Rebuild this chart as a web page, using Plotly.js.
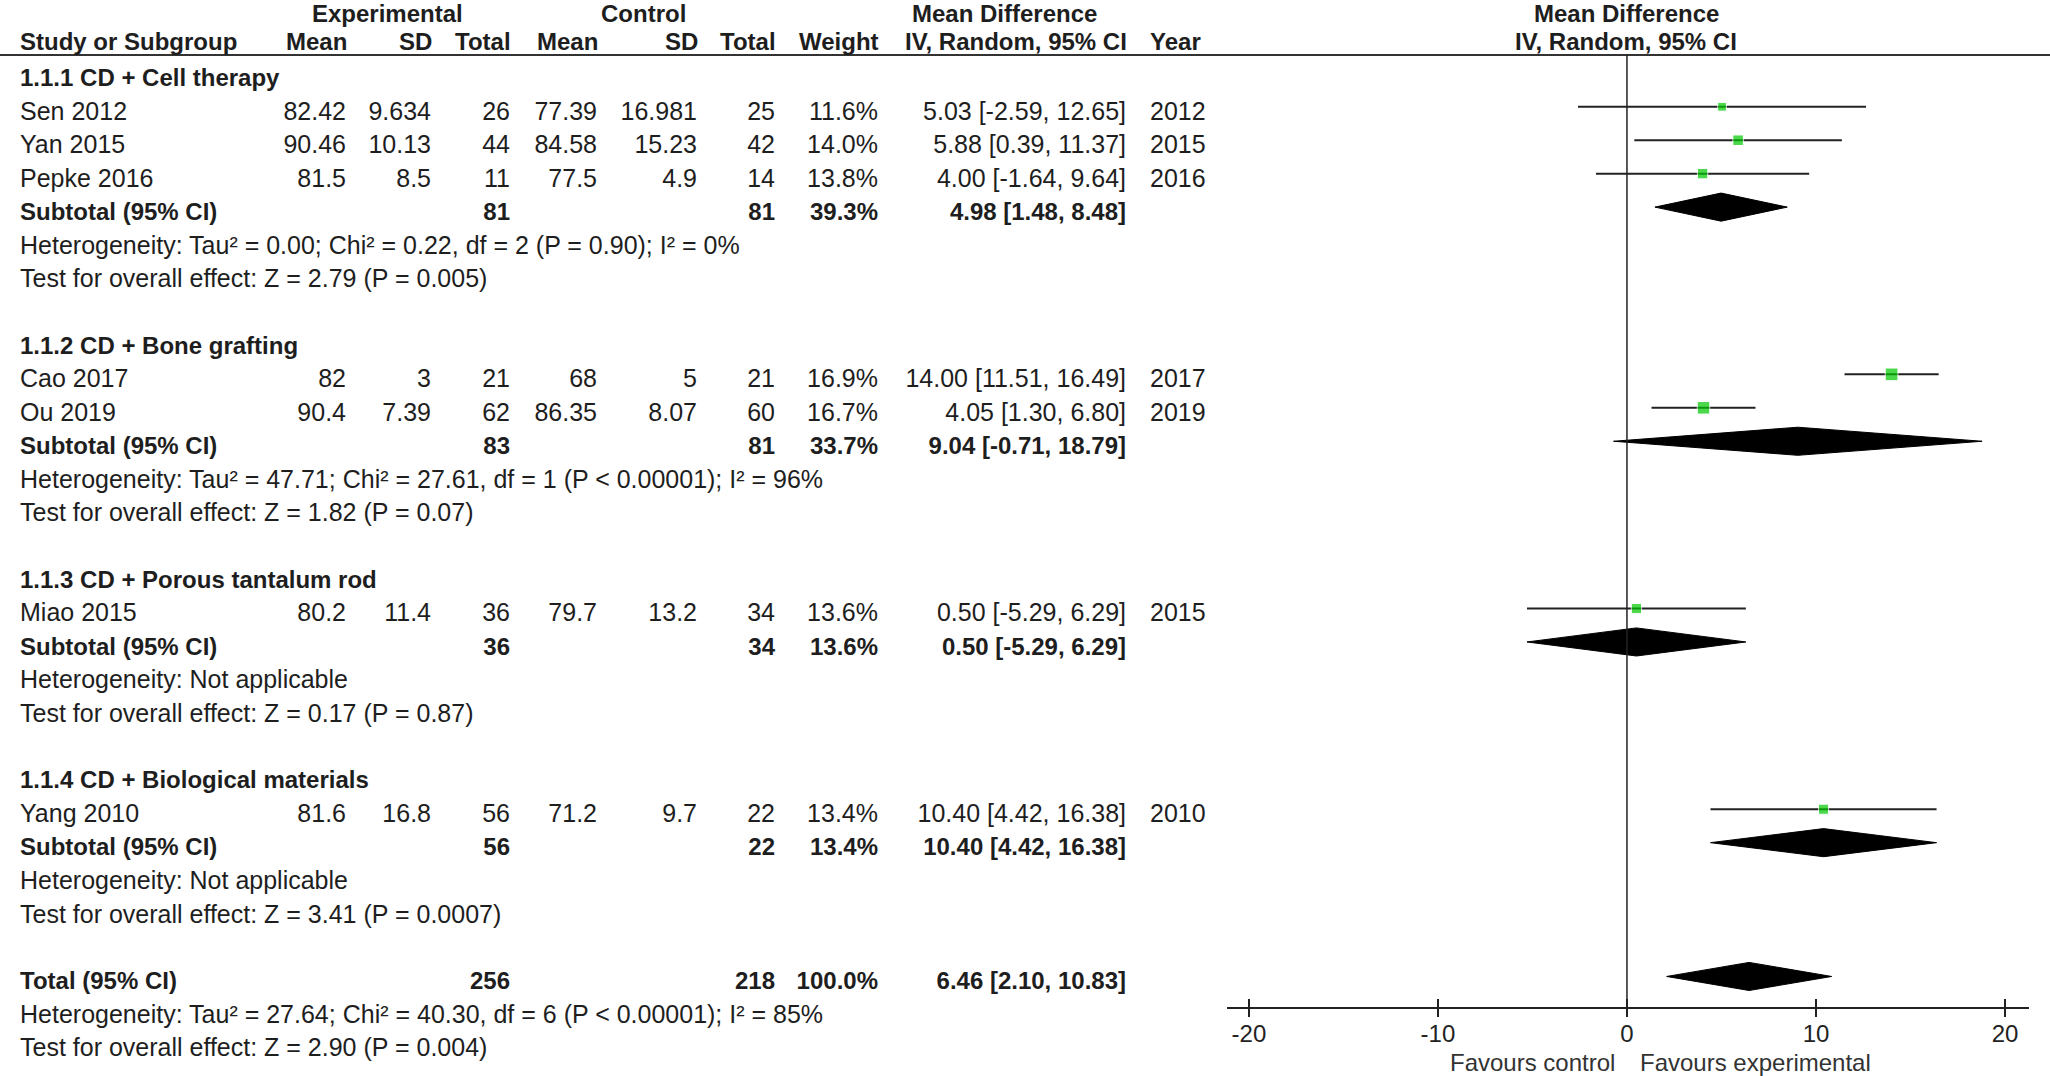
<!DOCTYPE html>
<html>
<head>
<meta charset="utf-8">
<script src="https://cdn.plot.ly/plotly-3.0.1.min.js"></script>
<style>
  html, body { margin: 0; padding: 0; background: #fff; }
  #chart { width: 2050px; height: 1076px; }
</style>
</head>
<body>
<div id="chart"></div>
<script>
// Forest plot - CD combined treatments vs control (Mean Difference, IV, Random)

// ---- data ----
const groupNames = [
    '1.1.1 CD + Cell therapy',
    '1.1.2 CD + Bone grafting',
    '1.1.3 CD + Porous tantalum rod',
    '1.1.4 CD + Biological materials'
];

const studyNames = ['Sen 2012', 'Yan 2015', 'Pepke 2016', 'Cao 2017', 'Ou 2019', 'Miao 2015', 'Yang 2010'];
const studyGroup = [0, 0, 0, 1, 1, 2, 3];
const expMean = [82.42, 90.46, 81.5, 82, 90.4, 80.2, 81.6];
const expSD = [9.634, 10.13, 8.5, 3, 7.39, 11.4, 16.8];
const expTotal = [26, 44, 11, 21, 62, 36, 56];
const ctrlMean = [77.39, 84.58, 77.5, 68, 86.35, 79.7, 71.2];
const ctrlSD = [16.981, 15.23, 4.9, 5, 8.07, 13.2, 9.7];
const ctrlTotal = [25, 42, 14, 21, 60, 34, 22];
const weight = [11.6, 14.0, 13.8, 16.9, 16.7, 13.6, 13.4];
const md = [5.03, 5.88, 4.00, 14.00, 4.05, 0.50, 10.40];
const ciLow = [-2.59, 0.39, -1.64, 11.51, 1.30, -5.29, 4.42];
const ciHigh = [12.65, 11.37, 9.64, 16.49, 6.80, 6.29, 16.38];
const year = [2012, 2015, 2016, 2017, 2019, 2015, 2010];

const subExpTotal = [81, 83, 36, 56];
const subCtrlTotal = [81, 81, 34, 22];
const subWeight = [39.3, 33.7, 13.6, 13.4];
const subMd = [4.98, 9.04, 0.50, 10.40];
const subLow = [1.48, -0.71, -5.29, 4.42];
const subHigh = [8.48, 18.79, 6.29, 16.38];
const subHet = [
    'Heterogeneity: Tau² = 0.00; Chi² = 0.22, df = 2 (P = 0.90); I² = 0%',
    'Heterogeneity: Tau² = 47.71; Chi² = 27.61, df = 1 (P &lt; 0.00001); I² = 96%',
    'Heterogeneity: Not applicable',
    'Heterogeneity: Not applicable'
];
const subTest = [
    'Test for overall effect: Z = 2.79 (P = 0.005)',
    'Test for overall effect: Z = 1.82 (P = 0.07)',
    'Test for overall effect: Z = 0.17 (P = 0.87)',
    'Test for overall effect: Z = 3.41 (P = 0.0007)'
];

const totalExp = 256;
const totalCtrl = 218;
const totalWeight = 100.0;
const totalMd = 6.46;
const totalLow = 2.10;
const totalHigh = 10.83;
const totalHet = 'Heterogeneity: Tau² = 27.64; Chi² = 40.30, df = 6 (P &lt; 0.00001); I² = 85%';
const totalTest = 'Test for overall effect: Z = 2.90 (P = 0.004)';

const xTicks = [-20, -10, 0, 10, 20];

// ---- page geometry (pixels) ----
const W = 2050, H = 1076;
const ROW_PX = 33.45;      // distance between text rows
const ROW0_PX = 80;        // centre of first row
const MARK_SHIFT = 0.2;    // marks sit slightly above the text
const DIAMOND_H = 0.42;    // diamond half height in rows
const AXIS_PX = 1008;
const FONT = 'Liberation Sans, Arial, sans-serif';
const TXT = '#1e1e1e';

const pxToRow = px => (px - ROW0_PX) / ROW_PX;

// ---- build rows ----
const cols = { label: [], eMean: [], eSD: [], eTot: [], cMean: [], cSD: [], cTot: [], wt: [], ci: [], yr: [] };
function put(col, row, text, bold) { cols[col].push({ row, text, bold: !!bold }); }

const studyRow = [];
const subRow = [];
let r = 0;
groupNames.forEach((g, gi) => {
    put('label', r, g, true);
    r++;
    studyNames.forEach((s, i) => {
        if (studyGroup[i] !== gi) return;
        studyRow[i] = r;
        put('label', r, s);
        put('eMean', r, String(expMean[i]));
        put('eSD', r, String(expSD[i]));
        put('eTot', r, String(expTotal[i]));
        put('cMean', r, String(ctrlMean[i]));
        put('cSD', r, String(ctrlSD[i]));
        put('cTot', r, String(ctrlTotal[i]));
        put('wt', r, weight[i].toFixed(1) + '%');
        put('ci', r, `${md[i].toFixed(2)} [${ciLow[i].toFixed(2)}, ${ciHigh[i].toFixed(2)}]`);
        put('yr', r, String(year[i]));
        r++;
    });
    subRow[gi] = r;
    put('label', r, 'Subtotal (95% CI)', true);
    put('eTot', r, String(subExpTotal[gi]), true);
    put('cTot', r, String(subCtrlTotal[gi]), true);
    put('wt', r, subWeight[gi].toFixed(1) + '%', true);
    put('ci', r, `${subMd[gi].toFixed(2)} [${subLow[gi].toFixed(2)}, ${subHigh[gi].toFixed(2)}]`, true);
    r++;
    put('label', r, subHet[gi]); r++;
    put('label', r, subTest[gi]); r++;
    r++; // blank line
});
const totalRow = r;
put('label', r, 'Total (95% CI)', true);
put('eTot', r, String(totalExp), true);
put('cTot', r, String(totalCtrl), true);
put('wt', r, totalWeight.toFixed(1) + '%', true);
put('ci', r, `${totalMd.toFixed(2)} [${totalLow.toFixed(2)}, ${totalHigh.toFixed(2)}]`, true);
r++;
put('label', r, totalHet); r++;
put('label', r, totalTest); r++;

// column anchors in page pixels
const colX = {
    label: [20, 'middle right'],
    eMean: [346, 'middle left'],
    eSD: [431, 'middle left'],
    eTot: [510, 'middle left'],
    cMean: [597, 'middle left'],
    cSD: [697, 'middle left'],
    cTot: [775, 'middle left'],
    wt: [878, 'middle left'],
    ci: [1126, 'middle left'],
    yr: [1150, 'middle right']
};

const traces = [];
Object.keys(cols).forEach(k => {
    const [x, pos] = colX[k];
    [false, true].forEach(bold => {
        const items = cols[k].filter(d => d.bold === bold);
        if (!items.length) return;
        traces.push({
            type: 'scatter',
            mode: 'text',
            x: items.map(() => x),
            y: items.map(d => d.row),
            text: items.map(d => bold ? '<b>' + d.text + '</b>' : d.text),
            textposition: pos,
            textfont: { family: FONT, size: bold ? 24 : 25, color: TXT },
            cliponaxis: false,
            hoverinfo: 'skip',
            showlegend: false,
            xaxis: 'x',
            yaxis: 'y'
        });
    });
});

// study estimates with CI lines
traces.push({
    type: 'scatter',
    mode: 'markers',
    x: md,
    y: studyRow.map(v => v - MARK_SHIFT),
    marker: { symbol: 'square', size: weight.map(w => w * 0.75), color: '#00c800' },
    error_x: {
        type: 'data',
        symmetric: false,
        array: ciHigh.map((h, i) => h - md[i]),
        arrayminus: ciLow.map((l, i) => md[i] - l),
        width: 0,
        thickness: 2,
        color: '#222'
    },
    cliponaxis: false,
    hoverinfo: 'skip',
    showlegend: false,
    xaxis: 'x2',
    yaxis: 'y'
});

// pooled diamonds (subgroups + total)
const dMd = subMd.concat([totalMd]);
const dLow = subLow.concat([totalLow]);
const dHigh = subHigh.concat([totalHigh]);
const dRow = subRow.concat([totalRow]);
const dx = [], dy = [];
dMd.forEach((m, i) => {
    const c = dRow[i] - MARK_SHIFT;
    dx.push(dLow[i], m, dHigh[i], m, dLow[i], null);
    dy.push(c, c - DIAMOND_H, c, c + DIAMOND_H, c, null);
});
traces.push({
    type: 'scatter',
    mode: 'lines',
    x: dx,
    y: dy,
    fill: 'toself',
    fillcolor: '#000',
    line: { color: '#000', width: 1 },
    hoverinfo: 'skip',
    showlegend: false,
    xaxis: 'x2',
    yaxis: 'y'
});

// empty trace so the upward tick axis exists
traces.push({ type: 'scatter', x: [], y: [], xaxis: 'x3', yaxis: 'y', showlegend: false, hoverinfo: 'skip' });

const forestDomain = [1227 / W, 2029 / W];
const forestRange = [-21.16, 21.27];
const axisPos = (H - AXIS_PX) / H;
const headerLineRow = pxToRow(55);

const annotations = [];
function head(text, x, px, anchor) {
    annotations.push({
        xref: 'x', yref: 'y', x: x, y: pxToRow(px),
        text: '<b>' + text + '</b>',
        xanchor: anchor, yanchor: 'middle', showarrow: false,
        font: { family: FONT, size: 24, color: TXT }
    });
}
head('Experimental', 387, 13, 'center');
head('Control', 643, 13, 'center');
head('Mean Difference', 1004, 13, 'center');
head('Mean Difference', 1626, 13, 'center');
head('Study or Subgroup', 18, 41, 'left');
head('Mean', 349, 41, 'right');
head('SD', 434, 41, 'right');
head('Total', 513, 41, 'right');
head('Mean', 600, 41, 'right');
head('SD', 700, 41, 'right');
head('Total', 778, 41, 'right');
head('Weight', 881, 41, 'right');
head('IV, Random, 95% CI', 1129, 41, 'right');
head('Year', 1148, 41, 'left');
head('IV, Random, 95% CI', 1626, 41, 'center');

annotations.push({
    xref: 'x2', yref: 'y', x: 0, y: pxToRow(1062), xshift: -10,
    text: 'Favours control', xanchor: 'right', yanchor: 'middle', showarrow: false,
    font: { family: FONT, size: 24, color: '#333' }
});
annotations.push({
    xref: 'x2', yref: 'y', x: 0, y: pxToRow(1062), xshift: 11,
    text: 'Favours experimental', xanchor: 'left', yanchor: 'middle', showarrow: false,
    font: { family: FONT, size: 24, color: '#333' }
});

const layout = {
    width: W,
    height: H,
    margin: { l: 0, r: 0, t: 0, b: 0, pad: 0 },
    paper_bgcolor: '#fff',
    plot_bgcolor: 'rgba(0,0,0,0)',
    showlegend: false,
    xaxis: { domain: [0, 1], range: [0, W], visible: false, fixedrange: true },
    yaxis: { domain: [0, 1], range: [pxToRow(H), pxToRow(0)], visible: false, fixedrange: true },
    xaxis2: {
        domain: forestDomain,
        range: forestRange,
        anchor: 'free',
        position: axisPos,
        showgrid: false,
        zeroline: false,
        showline: true,
        linecolor: '#222',
        linewidth: 2,
        ticks: 'outside',
        ticklen: 8,
        tickwidth: 2,
        tickcolor: '#222',
        tickvals: xTicks,
        ticktext: xTicks.map(String),
        ticklabelstandoff: -4,
        tickfont: { family: FONT, size: 24, color: '#222' },
        fixedrange: true
    },
    xaxis3: {
        domain: forestDomain,
        range: forestRange,
        overlaying: 'x2',
        anchor: 'free',
        position: axisPos,
        side: 'top',
        showgrid: false,
        zeroline: false,
        showline: false,
        ticks: 'outside',
        ticklen: 9,
        tickwidth: 2,
        tickcolor: '#222',
        tickvals: xTicks,
        showticklabels: false,
        fixedrange: true
    },
    shapes: [
        {
            type: 'line', xref: 'paper', yref: 'y',
            x0: 0, x1: 1, y0: headerLineRow, y1: headerLineRow,
            line: { color: '#333', width: 2 }
        },
        {
            type: 'line', xref: 'x2', yref: 'y',
            x0: 0, x1: 0, y0: headerLineRow, y1: pxToRow(AXIS_PX),
            line: { color: '#222', width: 1.5 }
        }
    ],
    annotations: annotations
};

Plotly.newPlot('chart', traces, layout, { displayModeBar: false, staticPlot: true });
</script>
</body>
</html>
